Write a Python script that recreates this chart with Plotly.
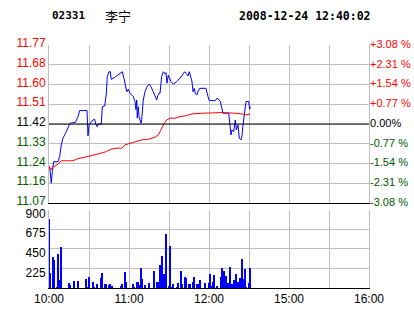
import plotly.graph_objects as go

# ---------------- data ----------------
code = "02331"
name = "李宁"
stamp = "2008-12-24 12:40:02"
prev_close = 11.42

price_labels = ["11.07", "11.16", "11.24", "11.33", "11.42", "11.51", "11.60", "11.68", "11.77"]
pct_values = [-3.08, -2.31, -1.54, -0.77, 0.0, 0.77, 1.54, 2.31, 3.08]
pct_labels = ["-3.08 %", "-2.31 %", "-1.54 %", "-0.77 %", "0.00%", "+0.77 %", "+1.54 %", "+2.31 %", "+3.08 %"]

time_ticks = [0, 30, 60, 90, 120, 150, 180, 210, 240]
time_labels = ["10:00", "", "11:00", "", "12:00", "", "15:00", "", "16:00"]

vol_ticks = [225, 450, 675, 900]

# price line (minutes after 10:00, price)
price_t = [0.5, 1.7, 2.5, 3.5, 6.75, 8, 9.2, 10.5, 13, 15.5, 16.7, 19.7, 21.75, 23, 28.5, 28.7,
           29.25, 30, 31.3, 33, 34.3, 35, 36.2, 37.3, 39.2, 40, 41.8, 43, 43.7, 45, 46, 46.7,
           49.3, 51.75, 53.25, 55, 56.5, 57.5, 58.3, 59.5, 60.75, 63.2, 64.5, 65.25, 65.8, 66.2,
           67, 67.5, 68.25, 69, 69.5, 70.7, 72, 73.3, 75.2, 76.5, 78.2, 79.5, 80.8, 81.5, 82.5,
           83.25, 84, 84.5, 85.7, 87, 87.75, 88.5, 89.5, 91.5, 93.2, 95.8, 98.25, 100.7, 101.8,
           102.75, 104.25, 105.2, 106.3, 107.25, 108, 109, 109.7, 110.8, 111.75, 113, 117.75,
           118.5, 119.25, 120.2, 124.7, 126, 127.3, 128.5, 129.75, 130.5, 134.8, 135.5, 136.5,
           137.25, 138.5, 139.7, 140.5, 141.75, 142.7, 144, 144.75, 145.5, 146.5, 147.75, 149.8,
           150.5, 151]
price_v = [11.230, 11.156, 11.208, 11.252, 11.252, 11.275, 11.327, 11.357, 11.386, 11.420, 11.426,
           11.426, 11.453, 11.480, 11.480, 11.423, 11.367, 11.416, 11.426, 11.438, 11.441, 11.420,
           11.408, 11.420, 11.420, 11.497, 11.500, 11.557, 11.631, 11.653, 11.653, 11.619, 11.628,
           11.638, 11.646, 11.653, 11.616, 11.586, 11.564, 11.575, 11.557, 11.542, 11.520, 11.483,
           11.527, 11.446, 11.497, 11.453, 11.431, 11.423, 11.438, 11.527, 11.564, 11.584, 11.598,
           11.586, 11.564, 11.549, 11.527, 11.545, 11.557, 11.557, 11.594, 11.631, 11.653, 11.643,
           11.649, 11.602, 11.638, 11.609, 11.598, 11.609, 11.624, 11.646, 11.653, 11.646, 11.634,
           11.653, 11.631, 11.609, 11.564, 11.579, 11.557, 11.549, 11.564, 11.579, 11.579, 11.557,
           11.542, 11.524, 11.524, 11.535, 11.530, 11.520, 11.475, 11.468, 11.468, 11.431, 11.371,
           11.394, 11.386, 11.438, 11.394, 11.416, 11.357, 11.349, 11.367, 11.416, 11.460, 11.520,
           11.520, 11.486, 11.497]

# average price line
avg_t = [0, 1.3, 3, 4.7, 6.75, 9.2, 18, 19.3, 21.75, 25.5, 29.25, 33, 36.75, 39.2, 43, 46.7,
         51.75, 54.5, 57, 60.75, 65.8, 69.5, 74.5, 79.5, 82, 84.5, 86.5, 88.3, 90.75, 94.5,
         98.25, 102, 107.25, 114.75, 129.75, 139.7, 144.75, 147.2, 151]
avg_v = [11.233, 11.215, 11.230, 11.233, 11.242, 11.256, 11.256, 11.260, 11.266, 11.270, 11.275,
         11.279, 11.284, 11.290, 11.297, 11.308, 11.313, 11.312, 11.327, 11.334, 11.341, 11.349,
         11.352, 11.361, 11.371, 11.401, 11.423, 11.438, 11.446, 11.446, 11.453, 11.456, 11.465,
         11.468, 11.471, 11.468, 11.465, 11.460, 11.465]

# volume bars
vol_t = [0, 1, 3, 4, 6, 7, 8, 9, 15, 16, 19, 22, 28, 29, 30, 33, 34, 36, 39, 40, 42, 43, 45, 46,
         47, 54, 55, 57, 58, 63, 64, 66, 67, 68, 69, 70, 72, 75, 79, 81, 82, 83, 84, 85, 86, 87,
         88, 90, 91, 92, 93, 96, 97, 99, 100, 102, 103, 105, 106, 108, 109, 111, 112, 113, 117,
         120, 121, 122, 123, 124, 126, 129, 130, 131, 132, 133, 134, 135, 136, 137, 138, 139,
         140, 141, 142, 143, 144, 145, 146, 147, 148, 150, 151]
vol_v = [800, 182, 361, 323, 19, 391, 103, 479, 68, 38, 84, 91, 114, 23, 137, 76, 23, 46, 125,
         182, 46, 57, 38, 53, 30, 34, 46, 194, 80, 57, 23, 80, 80, 42, 239, 114, 38, 68, 198, 80,
         80, 274, 171, 376, 171, 141, 627, 30, 490, 23, 57, 19, 68, 205, 53, 137, 125, 46, 57, 80,
         137, 57, 57, 103, 68, 68, 171, 30, 80, 160, 34, 137, 236, 205, 53, 148, 68, 53, 251, 53,
         23, 103, 171, 57, 80, 125, 114, 342, 114, 228, 23, 68, 239]

# ---------------- styles ----------------
RED = "#FF0000"
GREEN = "#005A00"
BLUE = "#0000FF"
GRID = "#C0C0C0"
LABEL_FONT = "Liberation Sans, Arial, sans-serif"
MONO = "DejaVu Sans Mono, monospace"


def colored(text, value, ref):
    if value > ref + 1e-9:
        c = RED
    elif value < ref - 1e-9:
        c = GREEN
    else:
        c = "#000000"
    return f'<span style="color:{c}">{text}</span>'


price_tickvals = [prev_close * (1 + p / 100) for p in pct_values]
price_ticktext = [colored(t, p, 0) for t, p in zip(price_labels, pct_values)]
pct_ticktext = [colored(t, p, 0) for t, p in zip(pct_labels, pct_values)]
lo = prev_close * (1 + pct_values[0] / 100)
hi = prev_close * (1 + pct_values[-1] / 100)
eps = 0.0004

fig = go.Figure()
fig.add_trace(go.Scatter(x=price_t, y=price_v, mode="lines", line=dict(color=BLUE, width=1),
                         xaxis="x", yaxis="y", hoverinfo="skip"))
fig.add_trace(go.Scatter(x=avg_t, y=avg_v, mode="lines", line=dict(color=RED, width=1),
                         xaxis="x", yaxis="y", hoverinfo="skip"))
fig.add_trace(go.Scatter(x=[0], y=[0], mode="markers", marker=dict(opacity=0),
                         xaxis="x", yaxis="y3", hoverinfo="skip"))
fig.add_trace(go.Bar(x=vol_t, y=vol_v, width=0.75, marker=dict(color=BLUE, line=dict(width=0)),
                     xaxis="x2", yaxis="y2", hoverinfo="skip"))

price_bottom = (288 - 203) / 243
vol_top = (288 - 209.5) / 243

fig.update_layout(
    width=414, height=314,
    margin=dict(l=49, r=45, t=45, b=26, autoexpand=False),
    paper_bgcolor="white", plot_bgcolor="white",
    showlegend=False, hovermode=False, bargap=0,
    xaxis=dict(domain=[0, 1], range=[0, 240], anchor="y", tickvals=time_ticks,
               ticktext=[""] * len(time_ticks), showgrid=True, gridcolor=GRID, gridwidth=1,
               zeroline=False, showline=True, linecolor="black", linewidth=1, ticks="",
               automargin=False),
    yaxis=dict(domain=[price_bottom, 1], range=[lo - eps, hi + eps], anchor="x",
               tickvals=price_tickvals, ticktext=price_ticktext, showgrid=True, gridcolor=GRID,
               zeroline=False, showline=True, linecolor=GRID, mirror=True, ticks="",
               automargin=False, ticklabelshift=-2,
               tickfont=dict(family=LABEL_FONT, size=12, color="black")),
    yaxis3=dict(overlaying="y", side="right", range=[pct_values[0] - eps / prev_close * 100,
                                                     pct_values[-1] + eps / prev_close * 100],
                tickvals=pct_values, ticktext=pct_ticktext, showgrid=False, zeroline=False,
                showline=False, ticks="", anchor="x", automargin=False, ticklabelshift=-1,
                tickfont=dict(family=LABEL_FONT, size=11, color="black")),
    xaxis2=dict(domain=[0, 1], range=[0, 240], anchor="y2", matches="x", tickvals=time_ticks,
                ticktext=time_labels, showgrid=True, gridcolor=GRID, zeroline=False,
                showline=True, linecolor="black", linewidth=1, ticks="", automargin=False,
                tickfont=dict(family=LABEL_FONT, size=12, color="black")),
    yaxis2=dict(domain=[0, vol_top], range=[0, 900.8], anchor="x2", tickvals=vol_ticks,
                showgrid=True, gridcolor=GRID, zeroline=False, showline=True, linecolor=GRID,
                mirror=True, ticks="", automargin=False, ticklabelshift=4,
                tickfont=dict(family=LABEL_FONT, size=12, color="black")),
    shapes=[dict(type="line", xref="x domain", yref="y", x0=0, x1=1, y0=prev_close,
                 y1=prev_close, line=dict(color="black", width=1))],
    annotations=[
        dict(text=f"<b>{code}</b>", xref="paper", yref="paper", x=(50 - 49) / 320,
             y=(288 - 16) / 243, xanchor="left", yanchor="middle", showarrow=False,
             font=dict(family=MONO, size=11, color="black")),
        dict(text=name, xref="paper", yref="paper", x=(103 - 49) / 320,
             y=(288 - 16) / 243, xanchor="left", yanchor="middle", showarrow=False,
             font=dict(family="Noto Sans CJK SC", size=13, color="black")),
        dict(text=f"<b>{stamp}</b>", xref="paper", yref="paper", x=(237 - 49) / 320,
             y=(288 - 16) / 243, xanchor="left", yanchor="middle", showarrow=False,
             font=dict(family=MONO, size=11.5, color="black")),
    ],
)

fig.write_html("out.html")
